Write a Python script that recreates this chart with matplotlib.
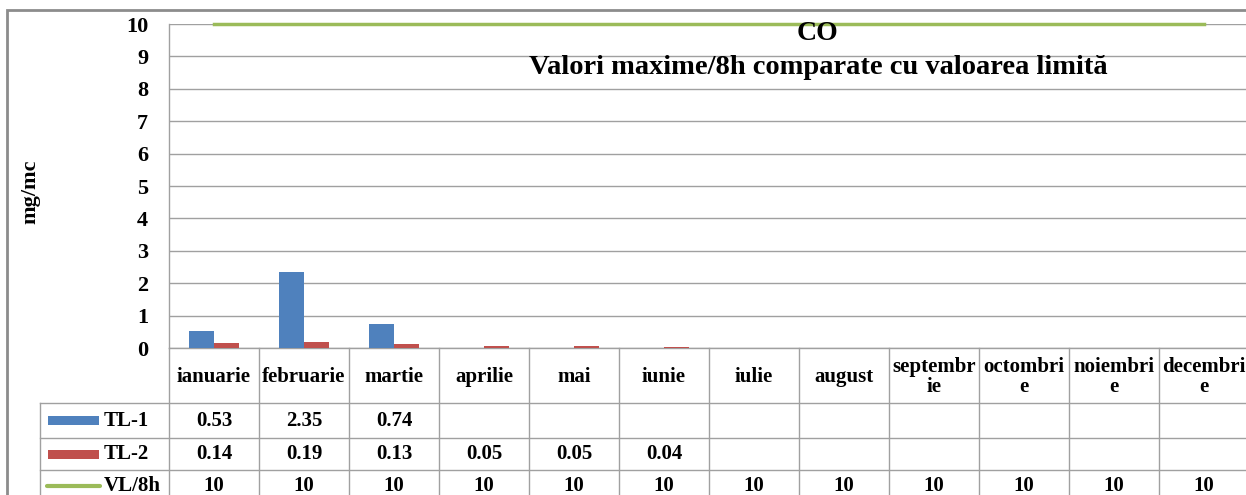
import numpy as np
import matplotlib.pyplot as plt
from matplotlib.patches import Rectangle
from matplotlib.lines import Line2D
import matplotlib.transforms as mtransforms

plt.rcParams['font.family'] = ['Liberation Serif', 'DejaVu Serif']
plt.rcParams['font.weight'] = 'bold'

########## data ##########
months = ['ianuarie', 'februarie', 'martie', 'aprilie', 'mai', 'iunie', 'iulie',
          'august', 'septembr\nie', 'octombri\ne', 'noiembri\ne', 'decembri\ne']
tl1 = [0.53, 2.35, 0.74, np.nan, np.nan, np.nan, np.nan, np.nan, np.nan, np.nan, np.nan, np.nan]
tl2 = [0.14, 0.19, 0.13, 0.05, 0.05, 0.04, np.nan, np.nan, np.nan, np.nan, np.nan, np.nan]
vl8h = [10, 10, 10, 10, 10, 10, 10, 10, 10, 10, 10, 10]
series_names = ['TL-1', 'TL-2', 'VL/8h']

c_blue = '#4F81BD'
c_red = '#C0504D'
c_green = '#9BBB59'
c_grid = '#A0A0A0'

W, H = 1246, 495
fig = plt.figure(figsize=(W / 100, H / 100), dpi=100)

def fy(py):
    return 1 - py / H

# plot area
ax = fig.add_axes([169 / W, fy(348), 1080 / W, 324 / H])
x = np.arange(len(months))
bw = 0.28
ax.bar(x - bw / 2, tl1, bw, color=c_blue, zorder=3)
ax.bar(x + bw / 2, tl2, bw, color=c_red, zorder=3)
ax.plot(x, vl8h, color=c_green, lw=2.5, zorder=4, clip_on=False)

ax.set_xlim(-0.5, len(months) - 0.5)
ax.set_ylim(0, 10)
ax.set_yticks(range(11))
ax.set_xticks([])
ax.tick_params(axis='y', length=0, pad=15, labelsize=16)
for lab in ax.get_yticklabels():
    lab.set_fontweight('bold')
ax.yaxis.grid(True, color=c_grid, lw=1)
ax.set_axisbelow(True)
for s in ['top', 'right']:
    ax.spines[s].set_visible(False)
for s in ['left', 'bottom']:
    ax.spines[s].set_color(c_grid)
    ax.spines[s].set_linewidth(1)
fig.text(30 / W, fy(192), 'mg/mc', rotation=90, ha='center', va='center',
         fontsize=16, fontweight='bold')

########## data table ##########
trans = mtransforms.blended_transform_factory(ax.transData, fig.transFigure)
row_lines = [403, 438, 470]
row_mid = [420.5, 454, 486]
head_mid = 377

for py in row_lines:
    fig.add_artist(Line2D([40 / W, 1.02], [fy(py), fy(py)], color=c_grid, lw=1))
fig.add_artist(Line2D([40 / W, 40 / W], [fy(403), 0], color=c_grid, lw=1))
for i in range(len(months) + 1):
    ax.add_artist(Line2D([i - 0.5, i - 0.5], [fy(348), 0], color=c_grid, lw=1,
                         transform=trans, clip_on=False))

for i, m in enumerate(months):
    ax.text(i, fy(head_mid), m, transform=trans, ha='center', va='center',
            fontsize=15, fontweight='bold', linespacing=0.95)

for r, vals in enumerate([tl1, tl2, vl8h]):
    for i, v in enumerate(vals):
        if np.isnan(v):
            continue
        txt = '%g' % v if v >= 10 else '%.2f' % v
        ax.text(i, fy(row_mid[r]), txt, transform=trans, ha='center', va='center',
                fontsize=15, fontweight='bold')

# legend keys
key_colors = [c_blue, c_red]
for r in range(2):
    fig.add_artist(Rectangle((48 / W, fy(row_mid[r] + 4.5)), 51 / W, 9 / H,
                             color=key_colors[r], lw=0))
fig.add_artist(Line2D([47 / W, 100 / W], [fy(row_mid[2]), fy(row_mid[2])],
                      color=c_green, lw=3, solid_capstyle='round'))
for r, name in enumerate(series_names):
    fig.text(104 / W, fy(row_mid[r]), name, ha='left', va='center',
             fontsize=15, fontweight='bold')

########## titles ##########
fig.text(818 / W, fy(34), 'CO', ha='center', va='center', fontsize=20, fontweight='bold')
fig.text(818 / W, fy(68), 'Valori maxime/8h comparate cu valoarea limită',
         ha='center', va='center', fontsize=20.5, fontweight='bold')

# outer chart frame
fig.add_artist(Rectangle((7 / W, -0.1), 1.2, fy(10) + 0.1, fill=False,
                         edgecolor='#8C8C8C', lw=2))

fig.savefig('out.png', dpi=100)
